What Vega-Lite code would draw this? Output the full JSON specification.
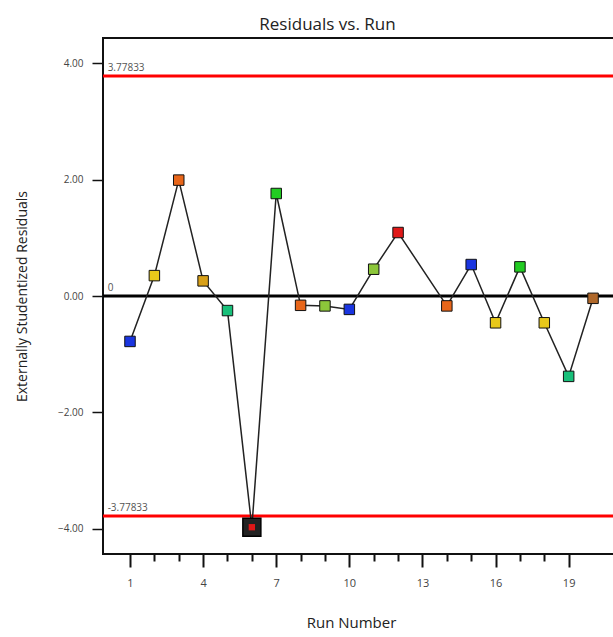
{
  "$schema": "https://vega.github.io/schema/vega-lite/v6.json",
  "width": 511,
  "height": 516,
  "autosize": {"type": "none"},
  "padding": {"left": 103, "top": 38, "right": 0, "bottom": 83},
  "background": "white",
  "config": {"view": {"stroke": "#111", "strokeWidth": 2}, "font": "Open Sans"},
  "title": {"text": "Residuals vs. Run", "fontSize": 17, "fontWeight": "normal", "color": "#222", "font": "Open Sans", "anchor": "middle", "dx": -31, "baseline": "alphabetic", "offset": -9},
  "datasets": {
    "runs": [
      {"run": 1, "resid": -0.78, "group": "blue", "flag": false},
      {"run": 2, "resid": 0.35, "group": "yellow", "flag": false},
      {"run": 3, "resid": 1.99, "group": "orange", "flag": false},
      {"run": 4, "resid": 0.26, "group": "gold", "flag": false},
      {"run": 5, "resid": -0.25, "group": "teal", "flag": false},
      {"run": 6, "resid": -3.97, "group": "red", "flag": true},
      {"run": 7, "resid": 1.76, "group": "green", "flag": false},
      {"run": 8, "resid": -0.16, "group": "orange", "flag": false},
      {"run": 9, "resid": -0.17, "group": "yellowgreen", "flag": false},
      {"run": 10, "resid": -0.23, "group": "blue", "flag": false},
      {"run": 11, "resid": 0.46, "group": "yellowgreen", "flag": false},
      {"run": 12, "resid": 1.09, "group": "red", "flag": false},
      {"run": 14, "resid": -0.17, "group": "orange", "flag": false},
      {"run": 15, "resid": 0.54, "group": "blue", "flag": false},
      {"run": 16, "resid": -0.46, "group": "yellow", "flag": false},
      {"run": 17, "resid": 0.5, "group": "green", "flag": false},
      {"run": 18, "resid": -0.46, "group": "yellow", "flag": false},
      {"run": 19, "resid": -1.38, "group": "teal", "flag": false},
      {"run": 20, "resid": -0.04, "group": "brown", "flag": false}
    ],
    "refs": [
      {"resid": 3.77833, "label": "3.77833", "kind": "limit"},
      {"resid": -3.77833, "label": "-3.77833", "kind": "limit"},
      {"resid": 0, "label": "0", "kind": "zero"}
    ]
  },
  "layer": [
    {
      "data": {"name": "refs"},
      "transform": [{"filter": "datum.kind == 'limit'"}],
      "mark": {"type": "rule", "color": "#ff0000", "strokeWidth": 3},
      "encoding": {
        "y": {"field": "resid", "type": "quantitative", "scale": {"domain": [-4.43, 4.43], "nice": false, "zero": false}}
      }
    },
    {
      "data": {"name": "refs"},
      "transform": [{"filter": "datum.kind == 'zero'"}],
      "mark": {"type": "rule", "color": "#000000", "strokeWidth": 3},
      "encoding": {
        "y": {"field": "resid", "type": "quantitative"}
      }
    },
    {
      "data": {"name": "refs"},
      "mark": {"type": "text", "align": "left", "baseline": "alphabetic", "fontSize": 10, "color": "#555", "dy": -5, "dx": 2},
      "encoding": {
        "x": {"datum": 0.0, "type": "quantitative"},
        "y": {"field": "resid", "type": "quantitative"},
        "text": {"field": "label"}
      }
    },
    {
      "data": {"name": "runs"},
      "mark": {"type": "line", "color": "#222", "strokeWidth": 1.5},
      "encoding": {
        "x": {
          "field": "run", "type": "quantitative",
          "scale": {"domain": [-0.108, 20.86], "nice": false, "zero": false},
          "axis": {
            "values": [1, 2, 3, 4, 5, 6, 7, 8, 9, 10, 11, 12, 13, 14, 15, 16, 17, 18, 19],
            "tickCount": 40,
            "format": "d",
            "title": "Run Number",
            "labelExpr": "(datum.value - 1) % 3 == 0 ? datum.label : ''",
            "labelOverlap": false,
            "labelBound": false,
            "labelFlush": false,
            "tickSize": {"condition": {"test": "(datum.value - 1) % 3 == 0", "value": 13}, "value": 7},
            "tickColor": "#111",
            "tickWidth": 2,
            "domain": false,
            "grid": false,
            "labelFontSize": 11,
            "labelColor": "#444",
            "labelPadding": 10,
            "titleFontSize": 15,
            "titleFontWeight": "normal",
            "titleColor": "#222",
            "titleX": 248,
            "titleY": 68,
            "titleBaseline": "middle"
          }
        },
        "y": {
          "field": "resid", "type": "quantitative",
          "axis": {
            "values": [-4, -2, 0, 2, 4],
            "format": ".2f",
            "title": "Externally Studentized Residuals",
            "tickSize": 11,
            "tickColor": "#111",
            "tickWidth": 1.5,
            "labelPadding": 9,
            "labelFontSize": 10,
            "labelColor": "#444",
            "domain": false,
            "grid": false,
            "titleFontSize": 14,
            "titleFontWeight": "normal",
            "titleColor": "#222",
            "titleX": -81,
            "titleY": 258,
            "titleBaseline": "middle",
            "titleAngle": -90
          }
        }
      }
    },
    {
      "data": {"name": "runs"},
      "transform": [{"filter": "datum.flag"}],
      "mark": {"type": "point", "shape": "square", "filled": true, "size": 324, "color": "#222", "stroke": "#000", "strokeWidth": 1.5, "opacity": 1},
      "encoding": {
        "x": {"field": "run", "type": "quantitative"},
        "y": {"field": "resid", "type": "quantitative"}
      }
    },
    {
      "data": {"name": "runs"},
      "mark": {"type": "point", "shape": "square", "filled": true, "stroke": "#111", "strokeWidth": 1, "opacity": 1},
      "encoding": {
        "x": {"field": "run", "type": "quantitative"},
        "y": {"field": "resid", "type": "quantitative"},
        "size": {"condition": {"test": "datum.flag", "value": 40}, "value": 110},
        "strokeOpacity": {"condition": {"test": "datum.flag", "value": 0}, "value": 1},
        "color": {
          "field": "group", "type": "nominal", "legend": null,
          "scale": {
            "domain": ["blue", "teal", "green", "yellowgreen", "yellow", "gold", "orange", "brown", "red"],
            "range": ["#1a35e0", "#18c07a", "#22cc22", "#8cc63a", "#e8c81a", "#d8a018", "#e8661a", "#b0682a", "#e01818"]
          }
        }
      }
    }
  ]
}
